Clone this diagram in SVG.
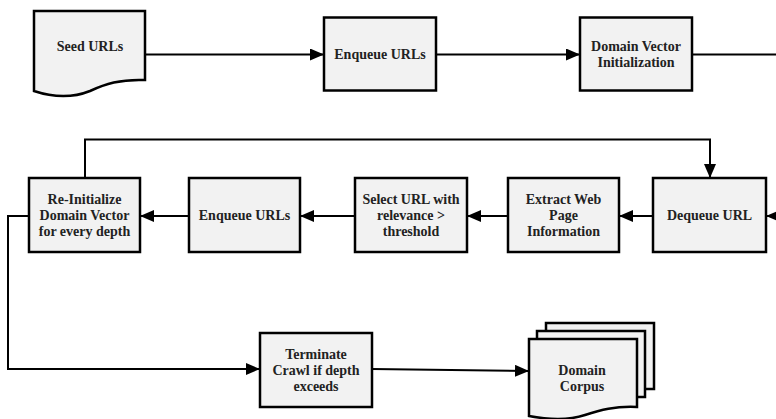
<svg xmlns="http://www.w3.org/2000/svg" width="776" height="419" viewBox="0 0 776 419">
  <style>
    .box { fill: #f2f2f2; stroke: #000; stroke-width: 2.5; stroke-linejoin: miter; }
    .lbl { font-family: "Liberation Serif", "DejaVu Serif", serif; font-weight: bold; font-size: 14px; fill: #222; text-anchor: middle; }
    .edge { fill: none; stroke: #000; stroke-width: 2; }
  </style>
  <defs>
    <marker id="arrow" viewBox="0 0 14 12" refX="14" refY="6" markerWidth="14" markerHeight="12" markerUnits="userSpaceOnUse" orient="auto">
      <path d="M0,0 L14,6 L0,12 Z" fill="#000"/>
    </marker>
  </defs>
  <rect width="776" height="419" fill="#fff"/>

  <g id="connectors">
    <path class="edge" d="M145,54.5 H324" marker-end="url(#arrow)"/>
    <path class="edge" d="M436,54.5 H580" marker-end="url(#arrow)"/>
    <path class="edge" d="M692,54.5 H776"/>
    <path class="edge" d="M776,216 H766" marker-end="url(#arrow)"/>
    <path class="edge" d="M85,178 V139.5 H710 V178" marker-end="url(#arrow)"/>
    <path class="edge" d="M653,216 H619" marker-end="url(#arrow)"/>
    <path class="edge" d="M508,216 H467" marker-end="url(#arrow)"/>
    <path class="edge" d="M355,216 H300" marker-end="url(#arrow)"/>
    <path class="edge" d="M189,216 H140" marker-end="url(#arrow)"/>
    <path class="edge" d="M29,216 H8 V369 H260" marker-end="url(#arrow)"/>
    <path class="edge" d="M372,369 L529,371" marker-end="url(#arrow)"/>
  </g>

  <g id="seed-urls">
    <path class="box" d="M34,11 H145 V80 C120,79 105,84 90,91 C75,97 55,98 34,91 Z"/>
    <text class="lbl" x="90" y="51">Seed URLs</text>
  </g>

  <g id="enqueue-urls-1">
    <rect class="box" x="324" y="17.5" width="112" height="73"/>
    <text class="lbl" x="380" y="59">Enqueue URLs</text>
  </g>

  <g id="domain-vector-init">
    <rect class="box" x="580" y="17.5" width="112" height="73"/>
    <text class="lbl" x="636" y="51">Domain Vector</text>
    <text class="lbl" x="636" y="67">Initialization</text>
  </g>

  <g id="dequeue-url">
    <rect class="box" x="653" y="178" width="113" height="74"/>
    <text class="lbl" x="709.5" y="220">Dequeue URL</text>
  </g>

  <g id="extract-web-page">
    <rect class="box" x="508" y="178" width="111" height="74"/>
    <text class="lbl" x="563.5" y="204">Extract Web</text>
    <text class="lbl" x="563.5" y="220">Page</text>
    <text class="lbl" x="563.5" y="236">Information</text>
  </g>

  <g id="select-url">
    <rect class="box" x="355" y="178" width="112" height="74"/>
    <text class="lbl" x="411" y="204">Select URL with</text>
    <text class="lbl" x="411" y="220">relevance &gt;</text>
    <text class="lbl" x="411" y="236">threshold</text>
  </g>

  <g id="enqueue-urls-2">
    <rect class="box" x="189" y="178" width="111" height="74"/>
    <text class="lbl" x="244.5" y="220">Enqueue URLs</text>
  </g>

  <g id="reinit-domain-vector">
    <rect class="box" x="29" y="178" width="111" height="74"/>
    <text class="lbl" x="84.5" y="204">Re-Initialize</text>
    <text class="lbl" x="84.5" y="220">Domain Vector</text>
    <text class="lbl" x="84.5" y="236">for every depth</text>
  </g>

  <g id="terminate-crawl">
    <rect class="box" x="260" y="333" width="112" height="74"/>
    <text class="lbl" x="316" y="359">Terminate</text>
    <text class="lbl" x="316" y="375">Crawl if depth</text>
    <text class="lbl" x="316" y="391">exceeds</text>
  </g>

  <g id="domain-corpus">
    <rect class="box" x="546" y="323" width="108" height="66"/>
    <rect class="box" x="537" y="331" width="108" height="66"/>
    <path class="box" d="M529,339 H637 V407 C615,406 600,410 585,415 C570,420 550,420 529,416 Z"/>
    <text class="lbl" x="582" y="375">Domain</text>
    <text class="lbl" x="582" y="391">Corpus</text>
  </g>
</svg>
